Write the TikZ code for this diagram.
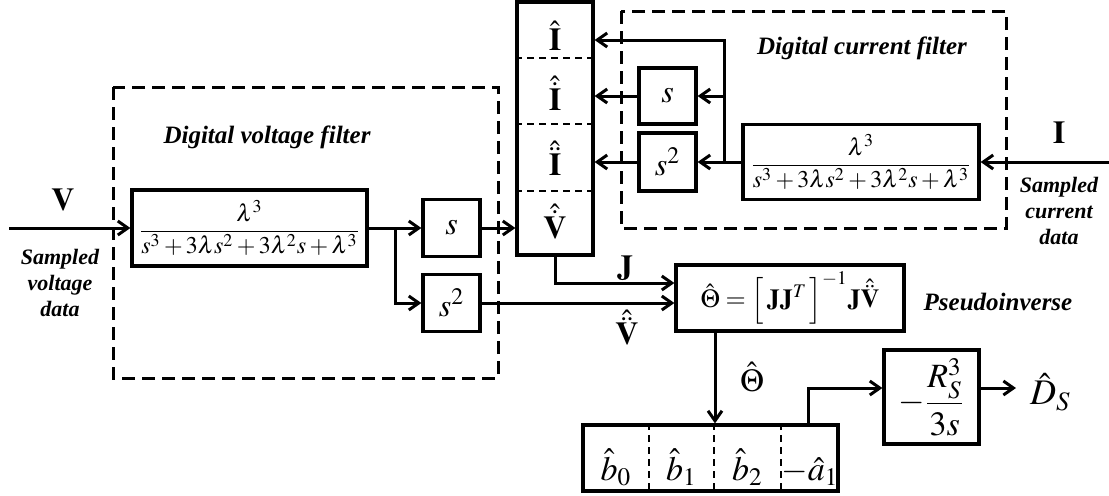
\documentclass[tikz,border=0pt]{standalone}
\usepackage{amsmath}
\usepackage{mathptmx}
\usepackage{fontspec}
\setmainfont{Liberation Serif}
\usetikzlibrary{arrows.meta}
\begin{document}
\begin{tikzpicture}[x=0.5pt,y=-0.5pt,
  blk/.style={draw, line width=1.6pt, inner sep=0pt, font=\fontsize{16}{18}\selectfont},
  frac/.style={font=\fontsize{12}{14}\selectfont},
  arr/.style={line width=1.5pt, -{Straight Barb[length=5pt,width=7pt,line width=1.5pt]}},
  ln/.style={line width=1.5pt},
  grp/.style={line width=1.5pt, dash pattern=on 6.5pt off 3.5pt},
  cell/.style={line width=1.2pt, dash pattern=on 3.5pt off 2.5pt},
  ttl/.style={font=\fontsize{12.5}{14}\selectfont\bfseries\itshape, inner sep=0pt},
  note/.style={font=\fontsize{11}{13}\selectfont\bfseries\itshape, align=center, inner sep=0pt},
  lbl/.style={font=\fontsize{16}{18}\selectfont, inner sep=0pt}
]
\useasboundingbox (0,0) rectangle (1109,495);

% group frames
\draw[grp] (113,87) rectangle (498,378);
\draw[grp] (621,11) rectangle (1006,228);
\node[ttl] (vt) at (267,137) {Digital voltage filter};
\node[ttl] (ct) at (862,48) {Digital current filter};

% voltage side
\coordinate (vin) at (9,228);
\node[blk, frac, minimum width=117.5pt, minimum height=38pt] (vf) at (249.5,228)
  {$\dfrac{\lambda^3}{s^3+3\lambda s^2+3\lambda^2 s+\lambda^3}$};
\node[blk, minimum width=28.5pt, minimum height=28.5pt] (vs) at (451.5,228) {$s$};
\node[blk, minimum width=28.5pt, minimum height=28.5pt] (vs2) at (451.5,303) {$s^2$};
\coordinate (vb) at (395,228);
\node[lbl] (Vlab) at (63,200) {$\mathbf{V}$};
\node[note] (vnote) at (60,283) {Sampled\\voltage\\data};

% J vector box
\node[blk, minimum width=38pt, minimum height=126.5pt] (J) at (555,128.5) {};
\draw[cell] (J.west |- 0,58) -- (J.east |- 0,58);
\draw[cell] (J.west |- 0,124) -- (J.east |- 0,124);
\draw[cell] (J.west |- 0,191) -- (J.east |- 0,191);
\node[lbl, anchor=base] (j1) at (555,50) {$\hat{\mathbf{I}}$};
\node[lbl, anchor=base] (j2) at (555,110) {$\hat{\dot{\mathbf{I}}}$};
\node[lbl, anchor=base] (j3) at (555,175) {$\hat{\ddot{\mathbf{I}}}$};
\node[lbl, anchor=base] (j4) at (555,238) {$\hat{\dot{\mathbf{V}}}$};

% current side
\node[blk, frac, minimum width=118pt, minimum height=37.5pt] (cf) at (861,162)
  {$\dfrac{\lambda^3}{s^3+3\lambda s^2+3\lambda^2 s+\lambda^3}$};
\node[blk, minimum width=28.5pt, minimum height=28pt] (cs) at (667.5,96) {$s$};
\node[blk, minimum width=28.5pt, minimum height=29pt] (cs2) at (667.5,162) {$s^2$};
\coordinate (cb0) at (724,162);
\coordinate (cin) at (1109,162);
\node[lbl] (Ilab) at (1059,133) {$\mathbf{I}$};
\node[note] (cnote) at (1059,211) {Sampled\\current\\data};

% estimator
\node[blk, font=\fontsize{13}{15}\selectfont, minimum width=114pt, minimum height=33pt] (th) at (790,298)
  {$\hat{\Theta}=\Big[\,\mathbf{J}\mathbf{J}^{T}\,\Big]^{-1}\mathbf{J}\hat{\ddot{\mathbf{V}}}$};
\node[ttl] (pi) at (998,302) {Pseudoinverse};
\node[lbl] (Jlab) at (625,268) {$\mathbf{J}$};
\node[lbl] (Vddlab) at (627,328) {$\hat{\ddot{\mathbf{V}}}$};
\node[lbl] (thlab) at (752,377) {$\hat{\Theta}$};

% coefficient box
\node[blk, minimum width=127.5pt, minimum height=33pt] (cb) at (710.5,458) {};
\draw[cell] (cb.north -| 649,0) -- (cb.south -| 649,0);
\draw[cell] (cb.north -| 714,0) -- (cb.south -| 714,0);
\draw[cell] (cb.north -| 781,0) -- (cb.south -| 781,0);
\node[lbl, anchor=base, font=\fontsize{17}{19}\selectfont] (b0) at (616,480) {$\hat{b}_0$};
\node[lbl, anchor=base, font=\fontsize{17}{19}\selectfont] (b1) at (681.5,480) {$\hat{b}_1$};
\node[lbl, anchor=base, font=\fontsize{17}{19}\selectfont] (b2) at (747.5,480) {$\hat{b}_2$};
\node[lbl, anchor=base, font=\fontsize{17}{19}\selectfont] (a1) at (810,480) {$-\hat{a}_1$};

\node[blk, minimum width=47.5pt, minimum height=47pt, font=\fontsize{17}{19}\selectfont] (R) at (931.5,397)
  {$-\dfrac{R_S^3}{3s}$};
\node[lbl, anchor=west, inner sep=0pt, outer sep=0pt, font=\fontsize{18}{20}\selectfont] (D) at (1030,392) {$\hat{D}_S$};
\coordinate (dend) at (1016,388);

% connectors
\draw[arr] (vin) -- (vf.west);
\draw[arr] (vf.east) -- (vs.west);
\draw[arr] (vb) |- (vs2.west);
\draw[arr] (vs.east) -- (J.west |- vs.east);
\draw[arr] (vs2.east) -- (th.west |- vs2.east);
\draw[arr] (J.south) |- (th.west |- 0,283);
\draw[arr] (cin) -- (cf.east);
\draw[arr] (cf.west) -- (cs2.east);
\draw[arr] (cb0) |- (cs.east);
\draw[arr] (cb0) |- (J.east |- 0,40);
\draw[arr] (cs.west) -- (J.east |- cs.west);
\draw[arr] (cs2.west) -- (J.east |- cs2.west);
\draw[arr] (th.south -| 715,0) -- (cb.north -| 715,0);
\draw[arr] (cb.north -| 808,0) |- (R.west |- 0,388);
\draw[arr] (R.east |- 0,388) -- (dend);
\end{tikzpicture}
\end{document}
